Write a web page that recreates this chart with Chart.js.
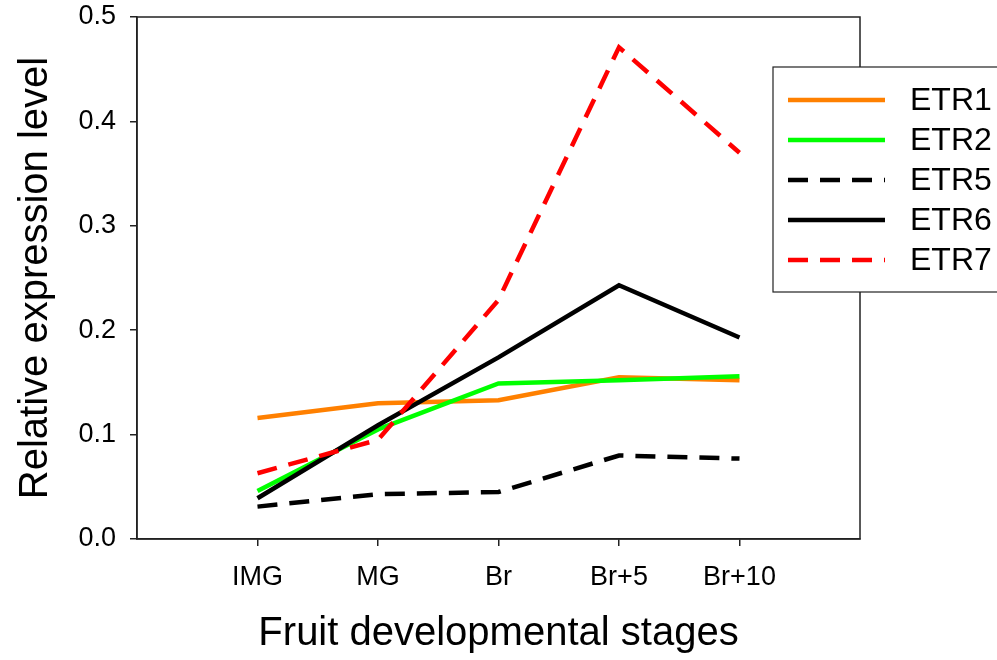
<!DOCTYPE html>
<html>
<head>
<meta charset="utf-8">
<script src="https://cdn.jsdelivr.net/npm/chart.js@4/dist/chart.umd.min.js"></script>
<style>
  html, body { margin: 0; padding: 0; background: #fff; }
  #wrap { width: 997px; height: 660px; position: relative; }
</style>
</head>
<body>
<div id="wrap"><canvas id="etrChart"></canvas></div>
<script>
// ---- data ----
const stages = ['IMG', 'MG', 'Br', 'Br+5', 'Br+10'];
const etr1 = [0.116, 0.130, 0.133, 0.155, 0.152];
const etr2 = [0.046, 0.105, 0.149, 0.152, 0.156];
const etr5 = [0.031, 0.043, 0.045, 0.080, 0.077];
const etr6 = [0.039, 0.109, 0.174, 0.243, 0.193];
const etr7 = [0.063, 0.095, 0.229, 0.471, 0.370];
const yTicks = [0, 0.1, 0.2, 0.3, 0.4, 0.5];

const FONT = "'Liberation Sans', Arial, sans-serif";
Chart.defaults.font.family = FONT;
Chart.defaults.color = '#000';

function pts(arr) {
  return arr.map((v, i) => ({ x: i + 1, y: v }));
}

function series(label, arr, color, dash, order) {
  return {
    label,
    data: pts(arr),
    borderColor: color,
    backgroundColor: color,
    borderWidth: 4.5,
    borderDash: dash,
    borderCapStyle: 'butt',
    pointRadius: 0,
    tension: 0,
    fill: false,
    order
  };
}

// box round the plot (top + right sides)
const framePlugin = {
  id: 'frame',
  beforeDatasetsDraw(chart) {
    const a = chart.chartArea, ctx = chart.ctx;
    ctx.save();
    ctx.strokeStyle = '#222';
    ctx.lineWidth = 1.5;
    ctx.strokeRect(a.left, a.top, a.right - a.left, a.bottom - a.top);
    ctx.restore();
  }
};

// legend box that sits over the right edge of the plot
const boxLegend = {
  id: 'boxLegend',
  afterDraw(chart) {
    const ctx = chart.ctx;
    const x0 = 773, y0 = 67, w = 240, h = 225;
    ctx.save();
    ctx.fillStyle = '#fff';
    ctx.fillRect(x0, y0, w, h);
    ctx.strokeStyle = '#222';
    ctx.lineWidth = 1.2;
    ctx.strokeRect(x0, y0, w, h);
    chart.data.datasets.forEach((ds, i) => {
      const y = 100 + i * 40;
      ctx.beginPath();
      ctx.setLineDash(ds.borderDash || []);
      ctx.lineCap = 'butt';
      ctx.strokeStyle = ds.borderColor;
      ctx.lineWidth = 4.5;
      ctx.moveTo(788, y);
      ctx.lineTo(885, y);
      ctx.stroke();
      ctx.setLineDash([]);
      ctx.fillStyle = '#000';
      ctx.font = '32px ' + FONT;
      ctx.textBaseline = 'middle';
      ctx.textAlign = 'left';
      ctx.fillText(ds.label, 910, y + 1);
    });
    ctx.restore();
  }
};

new Chart(document.getElementById('etrChart'), {
  type: 'line',
  data: {
    datasets: [
      series('ETR1', etr1, '#ff8000', [], 5),
      series('ETR2', etr2, '#00ff00', [], 4),
      series('ETR5', etr5, '#000000', [20, 12], 3),
      series('ETR6', etr6, '#000000', [], 2),
      series('ETR7', etr7, '#ff0000', [20, 12], 1)
    ]
  },
  options: {
    responsive: true,
    maintainAspectRatio: false,
    devicePixelRatio: 1,
    animation: false,
    layout: { padding: { left: 0, top: 17, right: 137, bottom: 0 } },
    plugins: {
      legend: { display: false },
      tooltip: { enabled: false }
    },
    scales: {
      x: {
        type: 'linear',
        min: 0,
        max: 6,
        afterBuildTicks: scale => {
          scale.ticks = stages.map((s, i) => ({ value: i + 1 }));
        },
        afterFit: scale => { scale.height = 121; },
        grid: { drawOnChartArea: false, drawTicks: true, tickLength: 7, color: '#222', lineWidth: 1.5 },
        border: { display: true, color: '#222', width: 1.5 },
        ticks: {
          autoSkip: false,
          maxRotation: 0,
          padding: 15,
          font: { size: 27 },
          callback: v => stages[v - 1]
        },
        title: {
          display: true,
          text: 'Fruit developmental stages',
          font: { size: 40 },
          padding: { top: 0, bottom: 2 }
        }
      },
      y: {
        min: 0,
        max: 0.5,
        afterBuildTicks: scale => {
          scale.ticks = yTicks.map(v => ({ value: v }));
        },
        afterFit: scale => {
          scale.width = 137;
          scale.paddingTop = 0;
        },
        grid: { drawOnChartArea: false, drawTicks: true, tickLength: 7, color: '#222', lineWidth: 1.5 },
        border: { display: true, color: '#222', width: 1.5 },
        ticks: {
          padding: 14,
          font: { size: 27 },
          callback: v => v.toFixed(1)
        },
        title: {
          display: true,
          text: 'Relative expression level',
          font: { size: 40 },
          padding: { top: 12, bottom: 0 }
        }
      }
    }
  },
  plugins: [framePlugin, boxLegend]
});
</script>
</body>
</html>
